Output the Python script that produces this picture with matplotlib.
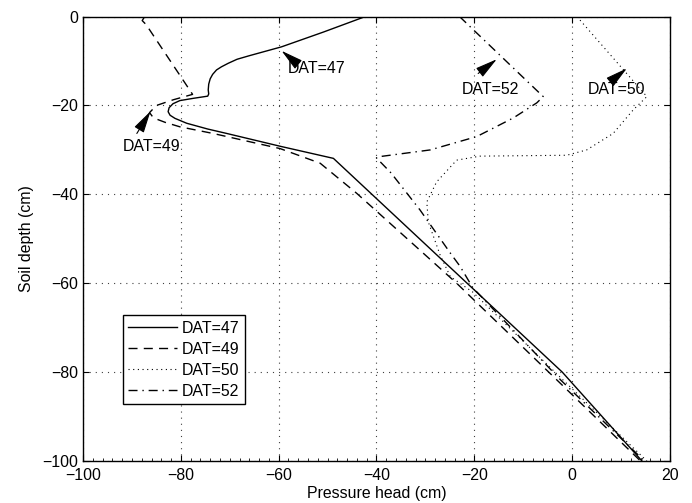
import matplotlib
matplotlib.use("Agg")
import matplotlib.pyplot as plt
from matplotlib.ticker import MultipleLocator

plt.rcParams['font.family'] = ['Liberation Sans', 'DejaVu Sans']
plt.rcParams['font.size'] = 11.4
plt.rcParams['axes.unicode_minus'] = True

# Pressure head (cm) vs soil depth (cm) profiles for each day after transplanting
dat47_x = [-42.3, -50.9, -59.4, -66.0, -68.5, -70.3, -71.7, -72.7, -73.5, -74.0, -74.3,
           -74.4, -74.3, -74.5, -77.5, -80.2, -81.6, -82.4, -82.6, -82.2, -81.2, -78.8,
           -74.5, -70.6, -59.6, -48.8, -2.0, 14.3]
dat47_y = [0.0, -3.5, -6.8, -8.8, -9.6, -10.5, -11.3, -12.0, -13.0, -14.0, -15.2,
           -16.5, -17.4, -17.9, -18.4, -18.9, -19.6, -20.5, -21.4, -22.2, -22.9, -24.0,
           -25.3, -26.3, -29.2, -31.9, -80.0, -100.0]

dat49_x = [-87.4, -87.9, -87.1, -77.6, -81.5, -85.0, -86.4, -85.6, -83.2, -80.2, -73.4,
           -59.7, -51.5, -44.0, -23.6, -1.0, 14.0]
dat49_y = [0.0, -0.9, -1.8, -17.5, -18.7, -20.0, -21.6, -22.8, -23.8, -24.8, -26.3,
           -29.7, -33.0, -39.8, -60.0, -84.0, -100.0]

dat50_x = [1.0, 15.3, 12.5, 8.4, 3.0, -1.1, -18.8, -23.6, -27.7, -29.7, -29.4, -27.0,
           -24.9, -20.3, -2.0, 15.3]
dat50_y = [0.0, -18.0, -21.0, -26.3, -30.0, -31.2, -31.4, -32.3, -37.2, -41.7, -46.2,
           -53.6, -58.5, -62.0, -81.6, -100.0]

dat52_x = [-23.0, -5.9, -7.2, -12.0, -19.5, -29.0, -39.3, -40.0, -37.0, -31.1, -24.9,
           -22.9, -20.3, -2.3, 14.8]
dat52_y = [0.0, -18.0, -19.4, -22.8, -27.0, -30.0, -31.5, -31.8, -35.2, -43.5, -53.2,
           -56.2, -61.0, -81.8, -100.0]

labels = ["DAT=47", "DAT=49", "DAT=50", "DAT=52"]

# annotation: label, arrow tip, arrow tail, text anchor (left, centre)
notes = [
    ("DAT=47", (-59.4, -7.7), (-56.4, -10.4), (-58.1, -11.6)),
    ("DAT=49", (-86.2, -21.3), (-89.0, -26.3), (-91.8, -29.3)),
    ("DAT=52", (-15.4, -9.6), (-19.2, -12.8), (-22.6, -16.4)),
    ("DAT=50", (11.2, -11.65), (7.8, -14.7), (3.3, -16.5)),
]

xticks = [-100, -80, -60, -40, -20, 0, 20]
yticks = [0, -20, -40, -60, -80, -100]

fig = plt.figure(figsize=(6.92, 5.03), dpi=100)
ax = fig.add_axes([0.12, 0.0835, 0.848, 0.8835])

lw = 1.0
ax.plot(dat47_x, dat47_y, color='k', lw=lw, linestyle='-', label=labels[0])
ax.plot(dat49_x, dat49_y, color='k', lw=lw, linestyle=(0, (6.5, 4.5)), label=labels[1])
ax.plot(dat50_x, dat50_y, color='k', lw=0.8, linestyle=(0, (1, 3.2)), label=labels[2])
ax.plot(dat52_x, dat52_y, color='k', lw=lw, linestyle=(0, (6.5, 3.5, 1, 3.5)), label=labels[3])

for text, tip, tail, pos in notes:
    ax.annotate("", xy=tip, xytext=tail,
                arrowprops=dict(arrowstyle='-|>,head_length=0.8,head_width=0.2',
                                color='k', lw=0.8, mutation_scale=17,
                                shrinkA=0, shrinkB=0))
    ax.text(pos[0], pos[1], text, ha='left', va='center', fontsize=11.4)

ax.set_xlim(-100, 20)
ax.set_ylim(-100, 0)
ax.set_xticks(xticks)
ax.set_yticks(yticks)
ax.xaxis.set_minor_locator(MultipleLocator(2))

ax.grid(True, which='major', color='0.25', linestyle=(0, (1, 4.5)), lw=0.8)
ax.tick_params(which='major', direction='in', length=4.5, width=0.8,
               top=True, right=True, pad=5, labelsize=11.4)
ax.tick_params(axis='y', which='major', pad=3.5)
ax.tick_params(which='minor', direction='in', length=2.2, width=0.6,
               top=False, right=False, left=False)
for s in ax.spines.values():
    s.set_linewidth(1.0)
    s.set_color('k')

ax.set_xlabel("Pressure head (cm)", fontsize=11.4, labelpad=2)
ax.set_ylabel("Soil depth (cm)", fontsize=11.4, labelpad=6)

leg = ax.legend(loc='upper left', bbox_to_anchor=(0.0676, 0.3285), borderaxespad=0,
                fancybox=False, framealpha=1, edgecolor='k', handlelength=3.05,
                handletextpad=0.35, labelspacing=0.38, borderpad=0.35,
                fontsize=11.4, markerfirst=True)
leg.get_frame().set_linewidth(1.0)

fig.savefig("out.png", dpi=100)
